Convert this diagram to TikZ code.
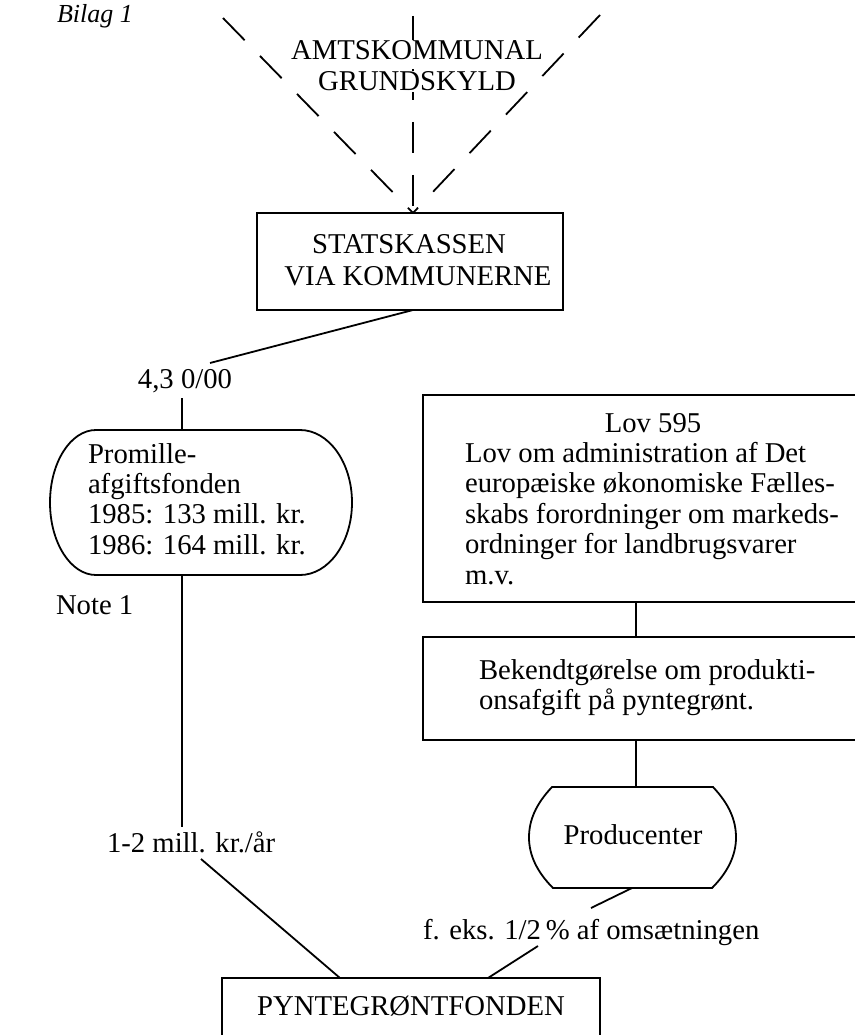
\documentclass[tikz,border=0pt]{standalone}
\usepackage{fontspec}
\setmainfont{Liberation Serif}
\begin{document}
\begin{tikzpicture}[x=1pt,y=-1pt,
  every node/.style={inner sep=0pt, outer sep=0pt, font=\fontsize{28.7}{30.4}\selectfont},
  ln/.style={line width=1.8pt, line join=miter},
  dsh/.style={line width=1.8pt, dash pattern=on 31pt off 22pt},
  boxnode/.style={draw, line width=1.8pt, minimum width=#1},
  lbl/.style={anchor=base},
  lblw/.style={anchor=base west}]
\useasboundingbox[fill=white] (0,0) rectangle (854,1035);

% dashed lines from above
\coordinate (conv) at (413,213);
\coordinate (dl) at (223,18);
\coordinate (dm) at (413,16);
\coordinate (dr) at (600,15);
\draw[dsh] (dl) -- (conv);
\draw[dsh] (dm) -- (conv);
\draw[dsh] (dr) -- (conv);

\node[lblw, font=\fontsize{26}{28}\selectfont\itshape] (bilag) at (57,23) {Bilag 1};
\node[lbl, fill=white, inner sep=1pt] (amt) at (417,60) {AMTSKOMMUNAL};
\node[lbl, fill=white, inner sep=1pt] (grund) at (417,91) {GRUNDSKYLD};

% Statskassen
\node[boxnode=306pt, minimum height=97pt] (stat) at (410,261.5) {};
\node[lbl] (stat1) at (409,253) {STATSKASSEN};
\node[lbl] (stat2) at (418,285) {VIA KOMMUNERNE};

\node[lbl] (l43) at (185,388) {4,3 0/00};
\coordinate (statb) at (413,310);
\coordinate (l43a) at (210,363);
\coordinate (l43b) at (182,398);
\draw[ln] (statb) -- (l43a);

% Promille shape
\draw[ln] (96,430) -- (300,430) .. controls (328.7,430) and (352,462.5) .. (352,502.5)
  .. controls (352,542.5) and (328.7,575) .. (300,575) -- (96,575)
  .. controls (70.6,575) and (50,542.5) .. (50,502.5)
  .. controls (50,462.5) and (70.6,430) .. (96,430) -- cycle;
\coordinate (promt) at (182,430);
\coordinate (promb) at (182,575);
\node[lblw] (p1) at (88,463) {Promille-};
\node[lblw] (p2) at (88,493.4) {afgiftsfonden};
\node[lblw] (p3) at (88,523.8) {1985: 133 mill. kr.};
\node[lblw] (p4) at (88,554) {1986: 164 mill. kr.};
\draw[ln] (l43b) -- (promt);

\node[lblw] (note) at (56,614) {Note 1};

% Lov box
\node[boxnode=457pt, minimum height=207pt] (lov) at (651.5,498.5) {};
\node[lbl] (lov0) at (653,432) {Lov 595};
\node[lblw] (lov1) at (465,462.4) {Lov om administration af Det};
\node[lblw] (lov2) at (465,492.8) {europæiske økonomiske Fælles-};
\node[lblw] (lov3) at (465,523.2) {skabs forordninger om markeds-};
\node[lblw] (lov4) at (465,553.6) {ordninger for landbrugsvarer};
\node[lblw] (lov5) at (465,584) {m.v.};

% Bekendtgoerelse box
\node[boxnode=457pt, minimum height=103pt] (bek) at (651.5,688.5) {};
\node[lblw] (bek1) at (479,679) {Bekendtgørelse om produkti-};
\node[lblw] (bek2) at (479,709) {onsafgift på pyntegrønt.};
\coordinate (lovb) at (636,602);
\coordinate (bekt) at (636,637);
\coordinate (bekb) at (636,740);
\draw[ln] (lovb) -- (bekt);

% Producenter
\draw[ln] (552,787) -- (713,787) .. controls (729,804) and (736,820) .. (736,837.5)
  .. controls (736,855) and (728,872) .. (712,888) -- (553,888)
  .. controls (537,872) and (529,855) .. (529,837.5)
  .. controls (529,820) and (536,804) .. (552,787) -- cycle;
\node[lbl] (prod) at (633,844) {Producenter};
\coordinate (prodt) at (636,787);
\coordinate (prodb) at (632,888);
\draw[ln] (bekb) -- (prodt);

% labels to fund
\node[lblw] (l12) at (107,852) {1-2 mill. kr./år};
\node[lblw] (lf) at (423,939) {f. eks. 1/2\,\% af omsætningen};
\coordinate (l12t) at (182,827);
\coordinate (l12b) at (201,859);
\coordinate (lft) at (591,908);
\coordinate (lfb) at (538,946);
\draw[ln] (promb) -- (l12t);
\draw[ln] (prodb) -- (lft);

% Pyntegroentfonden
\node[boxnode=378pt, minimum height=82pt] (fond) at (411,1019) {};
\node[lbl] (fond1) at (411,1015) {PYNTEGRØNTFONDEN};
\coordinate (fondl) at (340,978);
\coordinate (fondr) at (488,978);
\draw[ln] (l12b) -- (fondl);
\draw[ln] (lfb) -- (fondr);
\end{tikzpicture}
\end{document}
